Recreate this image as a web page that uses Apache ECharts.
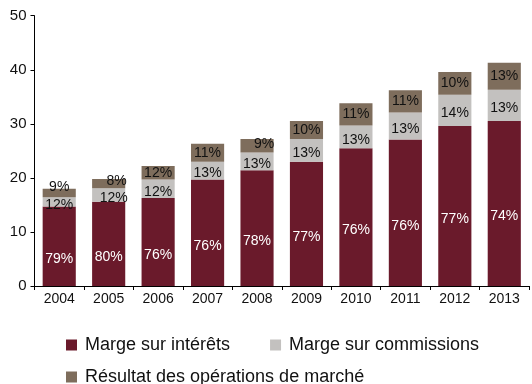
<!DOCTYPE html>
<html>
<head>
<meta charset="utf-8">
<script src="https://cdn.jsdelivr.net/npm/echarts@6/dist/echarts.min.js"></script>
<style>
  html, body { margin: 0; padding: 0; background: #ffffff; }
  #chart { width: 532px; height: 384px; }
</style>
</head>
<body>
<div id="chart"></div>
<script>
// Produit net bancaire par composante (en milliards), 2004–2013
const years = ['2004', '2005', '2006', '2007', '2008', '2009', '2010', '2011', '2012', '2013'];

const margeInterets    = [14.7, 15.6, 16.3, 19.7, 21.4, 23.0, 25.5, 27.1, 29.6, 30.5];
const margeCommissions = [1.7, 2.5, 3.4, 3.3, 3.3, 4.2, 4.2, 5.0, 5.8, 5.8];
const resultatMarche   = [1.6, 1.7, 2.5, 3.3, 2.5, 3.3, 4.1, 4.1, 4.2, 5.0];

// Parts de chaque composante (en %) affichées sur les barres
const partInterets    = [79, 80, 76, 76, 78, 77, 76, 76, 77, 74];
const partCommissions = [12, 12, 12, 13, 13, 13, 13, 13, 14, 13];
const partMarche      = [9, 8, 12, 11, 9, 10, 11, 11, 10, 13];

const yTicks = [0, 10, 20, 30, 40, 50];

const FONT = "'Liberation Sans', Arial, sans-serif";
const RED = '#6a1a2b';
const GREY = '#c3c1bf';
const BROWN = '#7e6d5c';

// Décalages ponctuels des étiquettes sur les segments trop fins
const labelNudge = {
  commissions: { 1: [5, 3] },
  marche: { 0: [0, -6], 1: [8, -2], 4: [7, -2] }
};

function withShares(values, shares, baseOffset, nudges) {
  return values.map((v, i) => {
    const item = { value: v, share: shares[i] };
    if (nudges && nudges[i]) item.label = { offset: nudges[i] };
    return item;
  });
}

const chart = echarts.init(document.getElementById('chart'), null, { renderer: 'canvas' });

const legendText = { fontFamily: FONT, fontSize: 18, color: '#111', padding: [0, 0, 0, 3] };

const shareLabel = (color, offset) => ({
  show: true, position: 'inside', offset: offset,
  color: color, fontSize: 14, fontFamily: FONT,
  formatter: p => p.data.share + '%'
});

chart.setOption({
  animation: false,
  textStyle: { fontFamily: FONT },
  grid: { left: 34.5, right: 3, top: 15.7, bottom: 98, containLabel: false },
  legend: [
    {
      data: ['Marge sur intérêts', 'Marge sur commissions'],
      left: 61, top: 331,
      itemWidth: 11, itemHeight: 11, itemGap: 40,
      icon: 'rect',
      textStyle: legendText
    },
    {
      data: ['Résultat des opérations de marché'],
      left: 61, top: 363,
      itemWidth: 11, itemHeight: 11,
      icon: 'rect',
      textStyle: legendText
    }
  ],
  xAxis: {
    type: 'category',
    data: years,
    axisLine: { lineStyle: { color: '#000', width: 1 } },
    axisTick: { show: true, length: 4, lineStyle: { color: '#000' } },
    axisLabel: { color: '#111', fontSize: 14, margin: 6, fontFamily: FONT }
  },
  yAxis: {
    type: 'value',
    min: yTicks[0],
    max: yTicks[yTicks.length - 1],
    interval: 10,
    splitLine: { show: false },
    axisLine: { show: true, lineStyle: { color: '#000', width: 1 } },
    axisTick: { show: true, length: 4, lineStyle: { color: '#000' } },
    axisLabel: { color: '#111', fontSize: 15, margin: 8, fontFamily: FONT }
  },
  series: [
    {
      name: 'Marge sur intérêts',
      type: 'bar',
      stack: 'pnb',
      barCategoryGap: '33%',
      itemStyle: { color: RED },
      data: withShares(margeInterets, partInterets),
      label: shareLabel('#fff', [0, 13])
    },
    {
      name: 'Marge sur commissions',
      type: 'bar',
      stack: 'pnb',
      itemStyle: { color: GREY },
      data: withShares(margeCommissions, partCommissions, null, labelNudge.commissions),
      label: shareLabel('#111', [0, 3])
    },
    {
      name: 'Résultat des opérations de marché',
      type: 'bar',
      stack: 'pnb',
      itemStyle: { color: BROWN },
      data: withShares(resultatMarche, partMarche, null, labelNudge.marche),
      label: shareLabel('#111', [0, 0])
    }
  ]
});
</script>
</body>
</html>
